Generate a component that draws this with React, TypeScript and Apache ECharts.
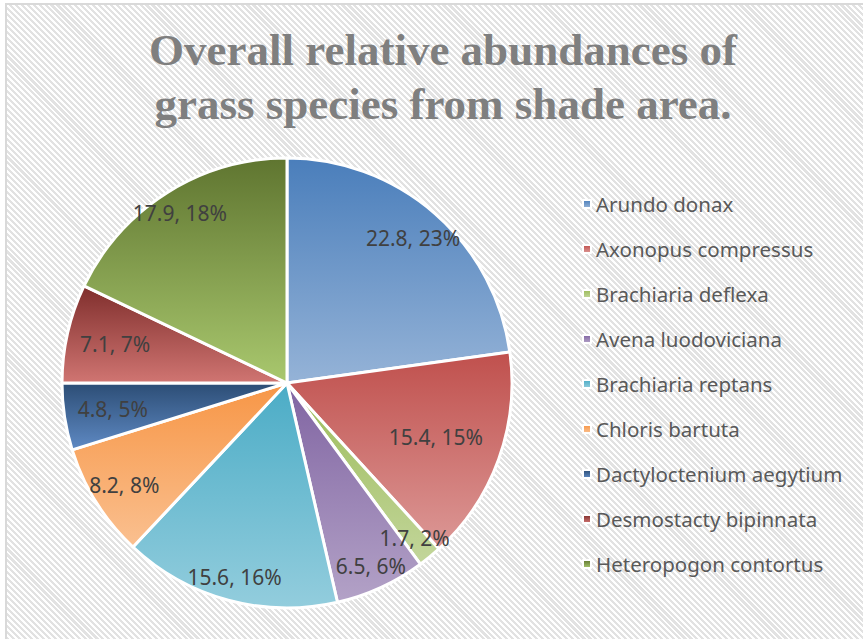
import React, { useEffect, useRef } from "react";
import * as echarts from "echarts";

const species = [
  "Arundo donax",
  "Axonopus compressus",
  "Brachiaria deflexa",
  "Avena luodoviciana",
  "Brachiaria reptans",
  "Chloris bartuta",
  "Dactyloctenium aegytium",
  "Desmostacty bipinnata",
  "Heteropogon contortus",
];
const values = [22.8, 15.4, 1.7, 6.5, 15.6, 8.2, 4.8, 7.1, 17.9];
const percents = [23, 15, 2, 6, 16, 8, 5, 7, 18];

const topColors = ["#4a7ebb", "#c0504d", "#9bbb59", "#8064a2", "#4bacc6", "#f79646", "#2c4d75", "#7f2e2c", "#5f7530"];
const bottomColors = ["#95b3d7", "#dc9896", "#c3d69b", "#b3a2c7", "#93cddd", "#fac090", "#5f8ac4", "#d07572", "#a9c86e"];

// label distance (fraction of radius) per slice, for layout only
const labelFrac: Record<string, number> = {
  "Arundo donax": 0.84,
  "Axonopus compressus": 0.69,
  "Brachiaria deflexa": 0.88,
  "Avena luodoviciana": 0.88,
  "Brachiaria reptans": 0.88,
  "Chloris bartuta": 0.84,
  "Dactyloctenium aegytium": 0.77,
  "Desmostacty bipinnata": 0.77,
  "Heteropogon contortus": 0.88,
};

export default function App() {
  const ref = useRef<HTMLDivElement>(null);
  useEffect(() => {
    document.body.style.margin = "0";
    const chart = echarts.init(ref.current!, undefined, { renderer: "svg" });
    const R = 225;
    const center = [287, 383];
    const data = species.map((name, i) => ({
      name,
      value: values[i],
      itemStyle: {
        color: new echarts.graphic.LinearGradient(0, 0, 0, 1, [
          { offset: 0, color: topColors[i] },
          { offset: 1, color: bottomColors[i] },
        ]),
      },
    }));
    const fracs = Array.from(new Set(Object.values(labelFrac)));
    const labelSeries = fracs.map((f) => ({
      type: "pie",
      silent: true,
      center,
      radius: [R * (2 * f - 1), R],
      startAngle: 90,
      avoidLabelOverlap: false,
      itemStyle: { color: "rgba(0,0,0,0)", borderWidth: 0 },
      emphasis: { disabled: true },
      labelLine: { show: false },
      data: species.map((name, i) => ({
        name,
        value: values[i],
        label: {
          show: labelFrac[name] === f,
          position: "inside",
          formatter: `${values[i]}, ${percents[i]}%`,
          fontFamily: "Noto Sans",
          fontSize: 21,
          color: "#404040",
        },
      })),
    }));
    chart.setOption({
      animation: false,
      graphic: [
        {
          type: "text",
          x: 443,
          y: 23,
          style: {
            text: "Overall relative abundances of\ngrass species from shade area.",
            textAlign: "center",
            fontFamily: "Liberation Serif",
            fontWeight: "bold",
            fontSize: 45,
            lineHeight: 54,
            fill: "#7f7f7f",
          },
        },
      ],
      legend: {
        orient: "vertical",
        left: 577,
        top: 188,
        itemWidth: 8,
        itemHeight: 8,
        itemGap: 23,
        icon: "rect",
        textStyle: { fontFamily: "Noto Sans", fontSize: 20.5, color: "#595959", lineHeight: 22 },
        data: species,
      },
      series: [
        {
          type: "pie",
          center,
          radius: R,
          startAngle: 90,
          label: { show: false },
          labelLine: { show: false },
          itemStyle: { borderColor: "#ffffff", borderWidth: 3 },
          emphasis: { disabled: true },
          data,
        },
        ...labelSeries,
      ],
    });
    return () => chart.dispose();
  }, []);
  return (
    <div
      style={{
        width: 863,
        height: 639,
        boxSizing: "border-box",
        borderLeft: "2px solid #d9d9d9",
        borderTop: "2px solid #d9d9d9",
        marginLeft: 5,
        marginTop: 3,
        position: "relative",
        background:
          "repeating-linear-gradient(45deg, #ffffff 0px, #ffffff 2px, #e2e2e2 2px, #e2e2e2 4.2px)",
      }}
    >
      <div ref={ref} style={{ position: "absolute", left: -7, top: -5, width: 863, height: 639 }} />
    </div>
  );
}
